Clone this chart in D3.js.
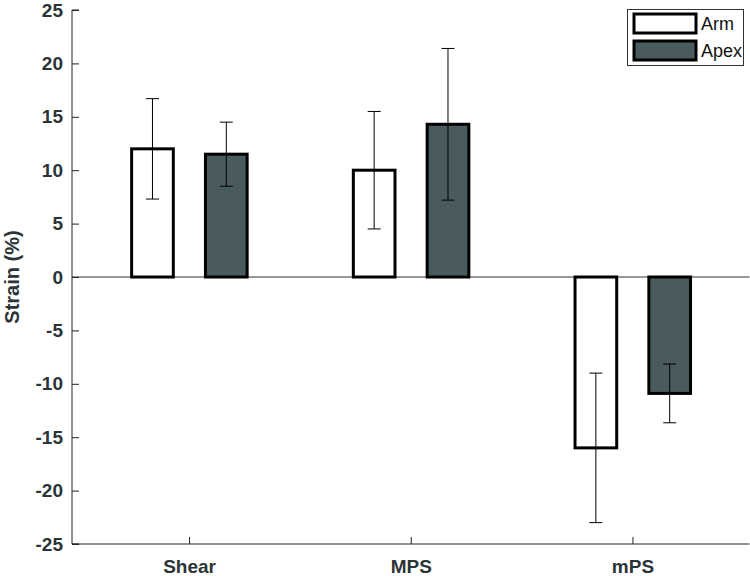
<!DOCTYPE html>
<html>
<head>
<meta charset="utf-8">
<script src="https://cdn.jsdelivr.net/npm/d3@7"></script>
<style>
  html, body { margin: 0; padding: 0; background: #fff; }
  svg { display: block; }
</style>
</head>
<body>
<svg id="chart" width="750" height="576"></svg>
<script>
const categories = ["Shear", "MPS", "mPS"];
const seriesNames = ["Arm", "Apex"];
const armValues = [12.0, 10.0, -16.0];
const armErrors = [4.7, 5.5, 7.0];
const apexValues = [11.5, 14.3, -10.9];
const apexErrors = [3.0, 7.1, 2.75];
const yTicks = [-25, -20, -15, -10, -5, 0, 5, 10, 15, 20, 25];
const yLabel = "Strain (%)";

const seriesColors = ["#ffffff", "#4a5b5d"];
const textColor = "#2b3437";

(function () {
const svg = d3.select("#chart");
const mLeft = 72, mRight = 749.5, mTop = 10, mBottom = 544;
const font = "'Liberation Sans', Arial, Helvetica, sans-serif";

const x = d3.scaleLinear().domain([0.472, 3.528]).range([mLeft, mRight]);
const y = d3.scaleLinear().domain([-25, 25]).range([mBottom, mTop]);

const offsets = [-0.165, 0.168];
const barW = 0.188;

const series = [
  { name: seriesNames[0], values: armValues, errors: armErrors, color: seriesColors[0], off: offsets[0] },
  { name: seriesNames[1], values: apexValues, errors: apexErrors, color: seriesColors[1], off: offsets[1] }
];

// zero line
svg.append("line")
  .attr("x1", mLeft).attr("x2", mRight)
  .attr("y1", y(0)).attr("y2", y(0))
  .attr("stroke", "#333").attr("stroke-width", 1);

// bars
series.forEach(s => {
  svg.append("g").selectAll("rect")
    .data(s.values)
    .join("rect")
    .attr("x", (d, i) => x(i + 1 + s.off - barW / 2))
    .attr("width", x(barW) - x(0))
    .attr("y", d => y(Math.max(0, d)))
    .attr("height", d => Math.abs(y(d) - y(0)))
    .attr("fill", s.color)
    .attr("stroke", "#000")
    .attr("stroke-width", 3);
});

// error bars
series.forEach(s => {
  const g = svg.append("g").attr("stroke", "#000").attr("stroke-width", 1);
  s.values.forEach((v, i) => {
    const cx = x(i + 1 + s.off);
    const capW = 6.5;
    g.append("line").attr("x1", cx).attr("x2", cx)
      .attr("y1", y(v + s.errors[i])).attr("y2", y(v - s.errors[i]));
    g.append("line").attr("x1", cx - capW).attr("x2", cx + capW)
      .attr("y1", y(v + s.errors[i])).attr("y2", y(v + s.errors[i]));
    g.append("line").attr("x1", cx - capW).attr("x2", cx + capW)
      .attr("y1", y(v - s.errors[i])).attr("y2", y(v - s.errors[i]));
  });
});

// y axis
const yAxis = d3.axisRight(y).tickValues(yTicks).tickSize(7).tickFormat(d => String(d));
const yg = svg.append("g").attr("transform", `translate(${mLeft},0)`).call(yAxis);
yg.select(".domain").attr("stroke", "#222").attr("d", `M7,${mTop}H0V${mBottom}H7`);
yg.selectAll(".tick line").attr("stroke", "#222");
yg.selectAll(".tick text")
  .attr("x", -9)
  .attr("text-anchor", "end")
  .attr("fill", textColor)
  .style("font-family", font)
  .style("font-weight", "bold")
  .style("font-size", "19px");

// x axis
const xAxis = d3.axisTop(x).tickValues([1, 2, 3]).tickSize(7).tickFormat((d) => categories[d - 1]);
const xg = svg.append("g").attr("transform", `translate(0,${mBottom})`).call(xAxis);
xg.select(".domain").attr("stroke", "#222").attr("d", `M${mLeft},0H${mRight}`);
xg.selectAll(".tick line").attr("stroke", "#222");
xg.selectAll(".tick text")
  .attr("y", 16)
  .attr("dy", "0.71em")
  .attr("fill", textColor)
  .style("font-family", font)
  .style("font-weight", "bold")
  .style("font-size", "19px");

// y label
svg.append("text")
  .attr("transform", `translate(19,${y(0)}) rotate(-90)`)
  .attr("text-anchor", "middle")
  .attr("fill", textColor)
  .style("font-family", font)
  .style("font-weight", "bold")
  .style("font-size", "20px")
  .text(yLabel);

// legend
const lg = svg.append("g");
lg.append("rect").attr("x", 627.5).attr("y", 9.5).attr("width", 116).attr("height", 56)
  .attr("fill", "#fff").attr("stroke", "#333").attr("stroke-width", 1);
series.forEach((s, i) => {
  const yy = 14 + i * 27;
  lg.append("rect").attr("x", 634).attr("y", yy).attr("width", 62).attr("height", 19)
    .attr("fill", s.color).attr("stroke", "#000").attr("stroke-width", 3);
  lg.append("text").attr("x", 701).attr("y", yy + 10).attr("dy", "0.35em")
    .attr("fill", "#111")
    .style("font-family", font)
    .style("font-size", "18px")
    .text(s.name);
});
})();
</script>
</body>
</html>
